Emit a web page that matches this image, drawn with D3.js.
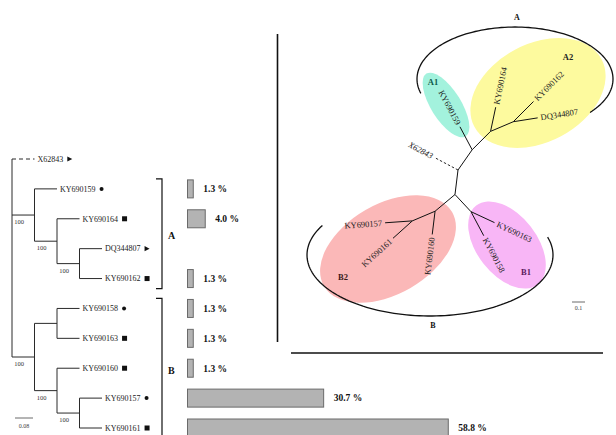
<!DOCTYPE html>
<html><head><meta charset="utf-8">
<script src="https://cdn.jsdelivr.net/npm/d3@7"></script>
<style>
body{margin:0;background:#fff}
svg{display:block}
text{font-family:"Liberation Serif","Times New Roman",serif}
</style>
</head><body>
<svg id="fig" width="616" height="435"></svg>
<script>
// ---------- data: rooted tree ----------
const leafOrder = ["X62843","KY690159","KY690164","DQ344807","KY690162","KY690158","KY690163","KY690160","KY690157","KY690161"];
const leafMarkers = ["triangle","circle","square","triangle","square","circle","square","square","circle","square"];
const outgroup = "X62843";
// [parent, child, branch length]
const rootedEdges = [
  ["root","X62843",0.1],
  ["root","A",0.1],
  ["A","KY690159",0.1],
  ["A","A_1",0.1],
  ["A_1","KY690164",0.1],
  ["A_1","A_2",0.1],
  ["A_2","DQ344807",0.1],
  ["A_2","KY690162",0.1],
  ["root","B",0.1],
  ["B","B_1",0.1],
  ["B_1","KY690158",0.1],
  ["B_1","KY690163",0.1],
  ["B","B_2",0.1],
  ["B_2","KY690160",0.1],
  ["B_2","B_3",0.1],
  ["B_3","KY690157",0.1],
  ["B_3","KY690161",0.1]
];
const bootstrapNodes = ["A","A_1","A_2","B","B_2","B_3"];
const bootstrapValues = [100,100,100,100,100,100];

// ---------- data: haplotype frequencies ----------
const haplotypeNames = ["KY690159","KY690164","KY690162","KY690158","KY690163","KY690160","KY690157","KY690161"];
const haplotypeFreq = [1.3,4.0,1.3,1.3,1.3,1.3,30.7,58.8];

// ---------- data: clades ----------
const cladeNames = ["A","B"];
const cladeFirst = ["KY690159","KY690158"];
const cladeLast = ["KY690162","KY690161"];

// ---------- data: unrooted tree ----------
const unrootedEdges = [
  ["c","X62843",0.20],
  ["c","a",0.19],
  ["a","KY690159",0.20],
  ["a","a2",0.20],
  ["a2","KY690164",0.19],
  ["a2","a3",0.19],
  ["a3","KY690162",0.22],
  ["a3","DQ344807",0.19],
  ["c","b",0.19],
  ["b","b2",0.20],
  ["b2","KY690160",0.18],
  ["b2","b3",0.19],
  ["b3","KY690157",0.21],
  ["b3","KY690161",0.20],
  ["b","b1",0.18],
  ["b1","KY690163",0.20],
  ["b1","KY690158",0.21]
];

const svg = d3.select("#fig");

// ================= rooted tree =================
const rows = [{id:"root", parent:"", len:0}].concat(rootedEdges.map(e => ({id:e[1], parent:e[0], len:e[2]})));
const tree = d3.stratify().id(d => d.id).parentId(d => d.parent)(rows);
tree.eachBefore(n => { n.dist = n.parent ? n.parent.dist + n.data.len : 0; });

const xTree = d3.scaleLinear().domain([0, 0.4]).range([12, 102]);
const yLeaf = d3.scalePoint().domain(leafOrder).range([159, 428]);

tree.eachAfter(n => {
  n.px = xTree(n.dist);
  if (!n.children) n.py = yLeaf(n.id);
  else n.py = (n.children[0].py + n.children[n.children.length - 1].py) / 2;
});

const gT = svg.append("g").attr("stroke", "#2a2a2a").attr("stroke-width", 1).attr("fill", "none");
tree.descendants().forEach(n => {
  if (n.parent) {
    gT.append("line")
      .attr("x1", n.parent.px).attr("x2", n.px)
      .attr("y1", n.py).attr("y2", n.py)
      .attr("stroke-dasharray", n.id === outgroup ? "4,3" : null);
  }
  if (n.children) {
    const ys = n.children.map(c => c.py);
    gT.append("line")
      .attr("x1", n.px).attr("x2", n.px)
      .attr("y1", d3.min(ys)).attr("y2", d3.max(ys));
  }
});

// tip labels and sample markers
tree.leaves().forEach(n => {
  const t = svg.append("text")
    .attr("x", n.px + 3).attr("y", n.py).attr("dy", "0.35em")
    .attr("font-size", 8).attr("fill", "#222").text(n.id);
  const w = t.node().getComputedTextLength();
  const mx = n.px + 3 + w + 5;
  const kind = leafMarkers[leafOrder.indexOf(n.id)];
  if (kind === "circle") {
    svg.append("circle").attr("cx", mx + 1).attr("cy", n.py).attr("r", 2).attr("fill", "#111");
  } else if (kind === "square") {
    svg.append("rect").attr("x", mx - 1).attr("y", n.py - 2.5).attr("width", 5).attr("height", 5).attr("fill", "#111");
  } else {
    svg.append("path").attr("d", `M${mx - 1},${n.py - 2.6}L${mx + 4},${n.py}L${mx - 1},${n.py + 2.6}Z`).attr("fill", "#111");
  }
});

// bootstrap support
bootstrapNodes.forEach((id, i) => {
  const n = tree.find(d => d.id === id);
  svg.append("text")
    .attr("x", n.parent.px + 7).attr("y", n.py + 9)
    .attr("text-anchor", "middle").attr("font-size", 6.5).attr("fill", "#333")
    .text(bootstrapValues[i]);
});

// scale bar 0.08
const sb = xTree(0.08) - xTree(0);
svg.append("line").attr("x1", 15).attr("x2", 15 + sb).attr("y1", 418).attr("y2", 418)
  .attr("stroke", "#444").attr("stroke-width", 0.8);
svg.append("text").attr("x", 15 + sb / 2).attr("y", 428).attr("text-anchor", "middle")
  .attr("font-size", 6).attr("fill", "#444").text("0.08");

// clade brackets
cladeNames.forEach((c, i) => {
  const y0 = yLeaf(cladeFirst[i]) - 10, y1 = yLeaf(cladeLast[i]) + 10;
  svg.append("path")
    .attr("d", `M156,${y0}H162V${y1}H156`)
    .attr("fill", "none").attr("stroke", "#111").attr("stroke-width", 1.2);
  svg.append("text")
    .attr("x", 168).attr("y", (yLeaf(cladeFirst[i]) + yLeaf(cladeLast[i])) / 2 + 2)
    .attr("dy", "0.35em").attr("font-size", 10).attr("font-weight", "bold").attr("fill", "#111")
    .text(c);
});

// frequency bars
const xBar = d3.scaleLinear().domain([0, 100]).range([0, 443.5]);
haplotypeNames.forEach((h, i) => {
  const y = yLeaf(h);
  const w = xBar(haplotypeFreq[i]);
  svg.append("rect")
    .attr("x", 187.5).attr("y", y - 9).attr("width", w).attr("height", 18)
    .attr("fill", "#b3b3b3").attr("stroke", "#6a6a6a").attr("stroke-width", 1);
  svg.append("text")
    .attr("x", 187.5 + w + 10).attr("y", y).attr("dy", "0.35em")
    .attr("font-size", 9.5).attr("font-weight", "bold").attr("fill", "#111")
    .text(haplotypeFreq[i].toFixed(1) + " %");
});

// ================= unrooted tree panel =================
svg.append("line").attr("x1", 277.5).attr("x2", 277.5).attr("y1", 34).attr("y2", 342)
  .attr("stroke", "#111").attr("stroke-width", 1.6);
svg.append("line").attr("x1", 291).attr("x2", 603).attr("y1", 353).attr("y2", 353)
  .attr("stroke", "#111").attr("stroke-width", 1.6);

// clade shading
const cladeShapes = [
  {cx:446, cy:105, rx:37, ry:15, rot:58, fill:"#a3f2dd", label:"A1", lx:433, ly:82, lc:"#0e5a4a"},
  {cx:538, cy:93, rx:72, ry:49, rot:-28, fill:"#fdfa9e", label:"A2", lx:568, ly:57, lc:"#222"},
  {cx:388, cy:249, rx:74, ry:45, rot:-30, fill:"#fbb8b8", label:"B2", lx:343, ly:277, lc:"#3a1a1a"},
  {cx:507, cy:245, rx:50, ry:30, rot:52, fill:"#f8b6f6", label:"B1", lx:526, ly:272, lc:"#5a1a5c"}
];
cladeShapes.forEach(s => {
  svg.append("ellipse")
    .attr("transform", `translate(${s.cx},${s.cy}) rotate(${s.rot})`)
    .attr("rx", s.rx).attr("ry", s.ry).attr("fill", s.fill);
});
cladeShapes.forEach(s => {
  svg.append("text").attr("x", s.lx).attr("y", s.ly).attr("dy", "0.35em")
    .attr("text-anchor", "middle").attr("font-size", 8.5).attr("font-weight", "bold")
    .attr("fill", s.lc).text(s.label);
});

// clade arcs
function ellArc(cx, cy, rx, ry, a0, a1) {
  const pts = d3.range(a0, a1 + 0.01, 2).map(a => {
    const r = a * Math.PI / 180;
    return [cx + rx * Math.cos(r), cy + ry * Math.sin(r)];
  });
  return d3.line()(pts);
}
svg.append("path").attr("d", ellArc(515, 79, 98, 52, 164, 400))
  .attr("fill", "none").attr("stroke", "#111").attr("stroke-width", 1.3);
svg.append("path").attr("d", ellArc(430, 255, 123, 61, -17, 210))
  .attr("fill", "none").attr("stroke", "#111").attr("stroke-width", 1.3);
svg.append("text").attr("x", 517).attr("y", 17).attr("dy", "0.35em").attr("text-anchor", "middle")
  .attr("font-size", 8).attr("font-weight", "bold").attr("fill", "#111").text("A");
svg.append("text").attr("x", 433).attr("y", 325).attr("dy", "0.35em").attr("text-anchor", "middle")
  .attr("font-size", 8).attr("font-weight", "bold").attr("fill", "#111").text("B");

// branch directions of the unrooted layout (degrees, screen space)
const branchAngle = {X62843:208, a:-55, KY690159:-118, a2:-45, KY690164:-78, a3:-23, KY690162:-45, DQ344807:-9,
  b:97, b2:140, KY690160:97, b3:157, KY690157:176, KY690161:138, b1:47, KY690163:25, KY690158:62};
const rLen = d3.scaleLinear().domain([0, 0.1]).range([0, 13]);
const pos = {c:[458, 170]};
const parents = new Set(unrootedEdges.map(e => e[0]));
const gU = svg.append("g");
unrootedEdges.forEach(([p, c, len]) => {
  const a = branchAngle[c] * Math.PI / 180;
  const L = rLen(len);
  pos[c] = [pos[p][0] + L * Math.cos(a), pos[p][1] + L * Math.sin(a)];
  gU.append("line")
    .attr("x1", pos[p][0]).attr("y1", pos[p][1]).attr("x2", pos[c][0]).attr("y2", pos[c][1])
    .attr("stroke", "#111").attr("stroke-width", c === outgroup ? 0.9 : 1)
    .attr("stroke-dasharray", c === outgroup ? "2.5,2" : null);
  if (!parents.has(c)) {
    let ang = branchAngle[c];
    const flip = Math.abs(((ang + 540) % 360) - 180) > 90;
    const ox = pos[c][0] + 3 * Math.cos(a), oy = pos[c][1] + 3 * Math.sin(a);
    gU.append("text")
      .attr("transform", `translate(${ox},${oy}) rotate(${flip ? ang - 180 : ang})`)
      .attr("text-anchor", flip ? "end" : "start").attr("dy", "0.35em")
      .attr("font-size", 8.5).attr("fill", "#222")
      .attr("font-style", c === outgroup ? "italic" : null)
      .text(c);
  }
});

// scale bar 0.1
svg.append("line").attr("x1", 572).attr("x2", 572 + rLen(0.1)).attr("y1", 302).attr("y2", 302)
  .attr("stroke", "#444").attr("stroke-width", 0.8);
svg.append("text").attr("x", 572 + rLen(0.1) / 2).attr("y", 310).attr("text-anchor", "middle")
  .attr("font-size", 6).attr("fill", "#444").text("0.1");
</script>
</body></html>
